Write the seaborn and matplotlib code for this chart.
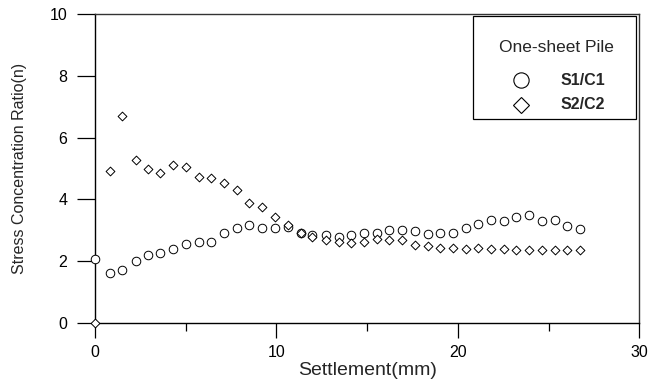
import numpy as np
import pandas as pd
import matplotlib
matplotlib.use("Agg")
import matplotlib.pyplot as plt
from matplotlib.lines import Line2D
from matplotlib.patches import Rectangle
import seaborn as sns

# Settlement (mm) shared by both ratio series
settlement = [0.00, 0.83, 1.51, 2.24, 2.90, 3.59, 4.32, 5.02, 5.72, 6.40,
              7.12, 7.81, 8.51, 9.23, 9.93, 10.63, 11.33, 11.95, 12.72, 13.42,
              14.12, 14.84, 15.54, 16.23, 16.92, 17.61, 18.33, 19.03, 19.73, 20.43,
              21.11, 21.83, 22.52, 23.22, 23.90, 24.64, 25.33, 26.02, 26.75]

# Stress concentration ratio, S1/C1
ratio_s1c1 = [2.08, 1.62, 1.73, 2.01, 2.21, 2.28, 2.41, 2.55, 2.61, 2.62,
              2.92, 3.08, 3.16, 3.09, 3.09, 3.10, 2.93, 2.86, 2.84, 2.79,
              2.84, 2.93, 2.93, 3.00, 3.00, 2.98, 2.89, 2.93, 2.93, 3.08,
              3.22, 3.35, 3.29, 3.43, 3.50, 3.30, 3.34, 3.14, 3.03]

# Stress concentration ratio, S2/C2
ratio_s2c2 = [0.00, 4.91, 6.70, 5.29, 4.98, 4.86, 5.12, 5.06, 4.74, 4.71,
              4.53, 4.29, 3.89, 3.74, 3.44, 3.17, 2.93, 2.78, 2.69, 2.61,
              2.58, 2.61, 2.71, 2.68, 2.68, 2.54, 2.50, 2.43, 2.43, 2.40,
              2.42, 2.41, 2.39, 2.38, 2.35, 2.38, 2.38, 2.36, 2.36]

series_names = ["S1/C1", "S2/C2"]
legend_title = "One-sheet Pile"
x_ticks = [0, 10, 20, 30]
y_ticks = [0, 2, 4, 6, 8, 10]

df = pd.DataFrame({
    "Settlement": settlement * 2,
    "Ratio": ratio_s1c1 + ratio_s2c2,
    "Series": [series_names[0]] * len(settlement) + [series_names[1]] * len(settlement),
})

sns.set_theme(style="ticks")
plt.rcParams["font.family"] = ["Liberation Sans", "DejaVu Sans"]

fig = plt.figure(figsize=(6.51, 3.87), dpi=100)
ax = fig.add_axes([0.146, 0.165, 0.836, 0.799])

marker_map = {series_names[0]: "o", series_names[1]: "D"}
size_map = {series_names[0]: 38, series_names[1]: 20}
for name in series_names:
    sub = df[df["Series"] == name]
    sns.scatterplot(data=sub, x="Settlement", y="Ratio", marker=marker_map[name],
                    s=size_map[name], color="white", edgecolor="black",
                    linewidth=0.7, ax=ax, legend=False, zorder=3, clip_on=False)

ax.set_xlim(0, 30)
ax.set_ylim(0, 10)
ax.set_xticks(x_ticks)
ax.set_xticks([5, 15, 25], minor=True)
ax.set_yticks(y_ticks)
ax.tick_params(axis="y", which="major", direction="out", length=13, width=0.9,
               colors="black", labelsize=11.5, pad=7)
ax.tick_params(axis="x", which="major", direction="out", length=11, width=0.9,
               colors="black", labelsize=11.5, pad=5)
ax.tick_params(axis="x", which="minor", direction="out", length=5.5, width=0.9,
               colors="black")

for side in ["left", "bottom", "top", "right"]:
    ax.spines[side].set_visible(True)
    ax.spines[side].set_color("black")
    ax.spines[side].set_linewidth(1.0)
ax.spines["top"].set_color("#333333")
ax.spines["right"].set_color("#333333")

ax.set_xlabel("Settlement(mm)", fontsize=14, labelpad=1)
ax.set_ylabel("Stress Concentration Ratio(n)", fontsize=11.5, labelpad=16)

# Legend box drawn in axes coordinates
box = Rectangle((0.695, 0.659), 0.299, 0.333, transform=ax.transAxes,
                facecolor="white", edgecolor="black", linewidth=0.9, zorder=5)
ax.add_patch(box)
ax.text(0.847, 0.891, legend_title, transform=ax.transAxes, ha="center",
        va="center", fontsize=12.5, zorder=6)
legend_rows = [(series_names[0], "o", 11, 0.785), (series_names[1], "D", 8.5, 0.707)]
for label, mk, ms, yy in legend_rows:
    ax.add_line(Line2D([0.783], [yy], transform=ax.transAxes, linestyle="none",
                       marker=mk, markersize=ms, markerfacecolor="white",
                       markeredgecolor="black", markeredgewidth=0.8, zorder=6))
    ax.text(0.855, yy, label, transform=ax.transAxes, ha="left", va="center",
            fontsize=11.5, fontweight="bold", zorder=6)

fig.savefig("out.png", dpi=100)
